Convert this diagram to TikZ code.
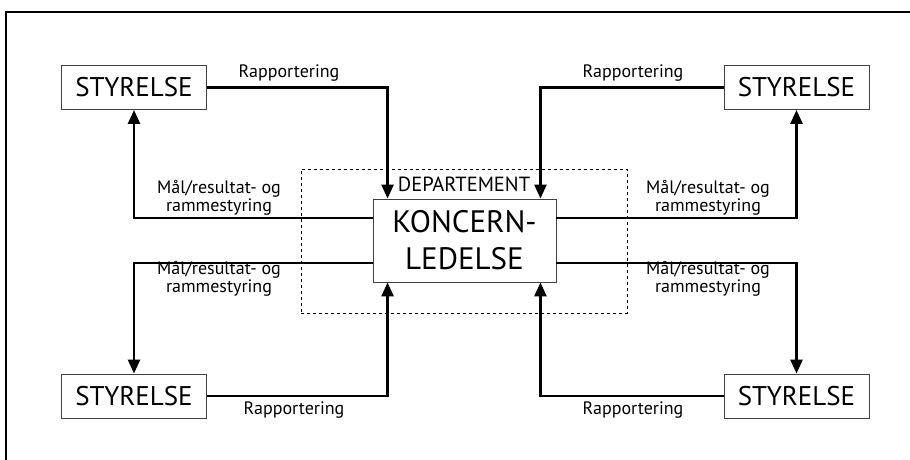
\documentclass[tikz,border=0pt]{standalone}
\usepackage{fontspec}
\setmainfont{PT Sans}
\usetikzlibrary{arrows.meta, positioning, calc}

\begin{document}
\begin{tikzpicture}[x=1pt, y=-1pt,
    box/.style={draw=black!75, line width=0.9pt, inner sep=0pt, minimum width=145pt, minimum height=44pt, font=\fontsize{27}{29}\selectfont},
    flow/.style={line width=2.6pt, -{Triangle[width=12pt, length=14pt]}},
    lab/.style={inner sep=0pt, align=center, font=\fontsize{18}{13}\selectfont}]

    \useasboundingbox (0,0) rectangle (910,460);

    % Ramme
    \draw[line width=2.5pt] (6,460) -- (6,12) -- (910,12);

    % Departement
    \node[draw, dashed, line width=0.7pt, minimum width=326pt, minimum height=144pt] (dep) at (464,241) {};
    \node[lab, font=\fontsize{20.5}{20}\selectfont] (deptxt) at (464,184) {DEPARTEMENT};
    \node[box, minimum width=183pt, minimum height=83pt, align=center, font=\fontsize{31}{37}\selectfont] (kl) at (464.5,240.5) {KONCERN-\\LEDELSE};

    % Styrelser
    \node[box] (tl) at (134,87.5) {STYRELSE};
    \node[box] (tr) at (796.5,87.5) {STYRELSE};
    \node[box] (bl) at (134,396) {STYRELSE};
    \node[box] (br) at (796.5,396) {STYRELSE};

    % Rapportering
    \draw[flow] (tl.east) -| ($(kl.north west)+(15,0)$);
    \draw[flow] (tr.west) -| ($(kl.north east)+(-16,0)$);
    \draw[flow] (bl.east) -| ($(kl.south west)+(15,0)$);
    \draw[flow] (br.west) -| ($(kl.south east)+(-16,0)$);

    % Mål/resultat- og rammestyring
    \draw[flow] ([yshift=22.5pt]kl.west) -| (tl.south);
    \draw[flow] ([yshift=22.5pt]kl.east) -| (tr.south);
    \draw[flow] ([yshift=-22.5pt]kl.west) -| (bl.north);
    \draw[flow] ([yshift=-22.5pt]kl.east) -| (br.north);

    % Tekster
    \node[lab] (rtl) at (289,73) {Rapportering};
    \node[lab] (rtr) at (633,73) {Rapportering};
    \node[lab] (rbl) at (294,410) {Rapportering};
    \node[lab] (rbr) at (633,410) {Rapportering};
    \node[lab] (mtl) at (219,198) {Mål/resultat- og\\rammestyring};
    \node[lab] (mtr) at (708,198) {Mål/resultat- og\\rammestyring};
    \node[lab] (mbl) at (219,279) {Mål/resultat- og\\rammestyring};
    \node[lab] (mbr) at (708,279) {Mål/resultat- og\\rammestyring};

\end{tikzpicture}
\end{document}
